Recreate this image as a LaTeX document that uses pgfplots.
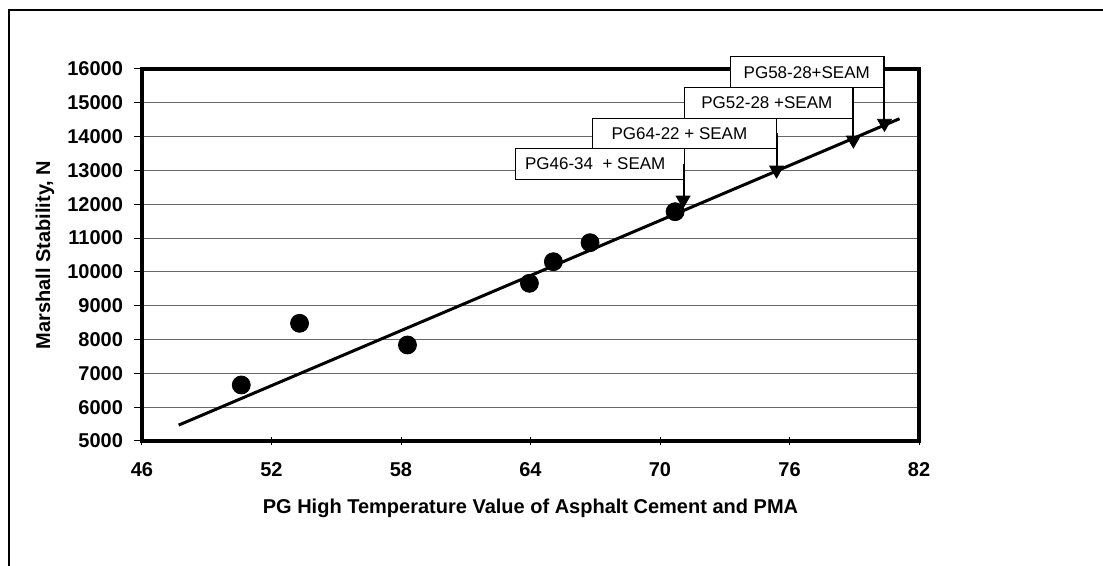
\documentclass[border=0pt]{standalone}
\usepackage{fontspec}
\setmainfont{Liberation Sans}
\usepackage{pgfplots}
\pgfplotsset{compat=1.18}

\begin{document}
\begin{tikzpicture}
\useasboundingbox (-71pt,-62.5pt) rectangle (480.5pt,220.5pt);
% chart area frame
\draw[line width=0.6pt] (-66.5pt,-80pt) -- (-66.5pt,215.5pt) -- (500pt,215.5pt);
\begin{axis}[
  scale only axis, width=388.5pt, height=186pt,
  xmin=46, xmax=82, ymin=5000, ymax=16000,
  xtick={46,52,...,82}, ytick={5000,6000,...,16000},
  scaled y ticks=false,
  xtick pos=bottom, ytick pos=left,
  ymajorgrids, grid style={gray!80!black, line width=0.5pt},
  axis line style={line width=1.75pt},
  tick style={black, line width=0.5pt},
  tick align=outside, major tick length=4pt,
  x tick style={yshift=2pt},
  ticklabel style={font=\bfseries\fontsize{10}{11}\selectfont},
  /pgf/number format/assume math mode=true,
  /pgf/number format/set thousands separator={},
  xlabel={PG High Temperature Value of Asphalt Cement and PMA},
  ylabel={Marshall Stability, N},
  label style={font=\bfseries\fontsize{10}{11}\selectfont},
  xlabel style={at={(axis description cs:0.5,-0.18)}, anchor=center},
  ylabel style={at={(axis description cs:-0.125,0.5)}, anchor=center},
  xticklabel style={yshift=-3pt},
  yticklabel style={xshift=-2pt},
  clip=false,
]
% trend line
\addplot[black, line width=1.5pt] coordinates {(47.7,5470) (81.1,14530)};
% asphalt cement and PMA
\addplot[only marks, mark=*, mark size=4.5pt, black] coordinates {
  (50.6,6656) (53.3,8480) (58.3,7839) (63.95,9663) (65.06,10302) (66.76,10864) (70.7,11780)
};
% SEAM blends
\addplot[only marks, mark=triangle*, mark size=4pt, black,
  mark options={rotate=180}] coordinates {
  (71.07,12126) (75.4,13013) (78.96,13900) (80.4,14394)
};
% labels
\tikzset{lbl/.style={draw=black, line width=0.5pt, fill=white},
  lbltxt/.style={font=\fontsize{8.5}{10}\selectfont}}
\draw[lbl] (axis cs:73.25,15447) rectangle (axis cs:80.38,16364);
\node[lbltxt] at (axis cs:76.8,15905) {PG58-28+SEAM};
\draw[lbl] (axis cs:71.13,14542) rectangle (axis cs:78.93,15447);
\node[lbltxt] at (axis cs:74.95,14995) {PG52-28 +SEAM};
\draw[lbl] (axis cs:66.88,13655) rectangle (axis cs:75.41,14542);
\node[lbltxt] at (axis cs:70.9,14098) {PG64-22 + SEAM};
\draw[lbl] (axis cs:63.32,12738) rectangle (axis cs:71.13,13655);
\node[lbltxt] at (axis cs:67.0,13196) {PG46-34\ \ + SEAM};
% leader lines down to the SEAM points
\draw[line width=1.2pt] (axis cs:80.38,16364) -- (axis cs:80.38,14394);
\draw[line width=1.2pt] (axis cs:78.93,15447) -- (axis cs:78.93,13900);
\draw[line width=1.2pt] (axis cs:75.41,14100) -- (axis cs:75.41,13013);
\draw[line width=1.2pt] (axis cs:71.1,13200) -- (axis cs:71.1,12126);
\end{axis}
\end{tikzpicture}
\end{document}
